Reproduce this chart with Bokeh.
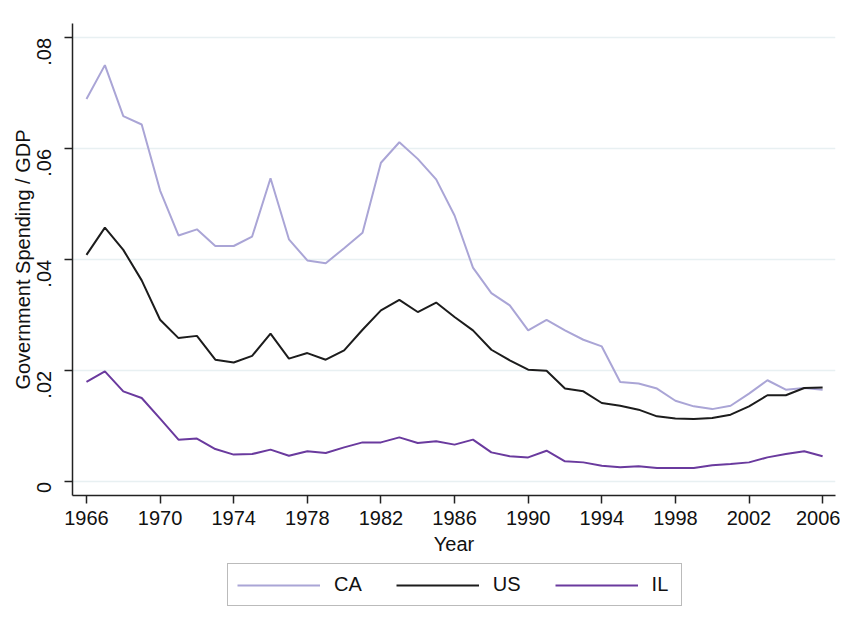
from bokeh.plotting import figure
from bokeh.models import FixedTicker, Legend, LegendItem, Range1d
from bokeh.layouts import column
from bokeh.embed import file_html
from bokeh.resources import INLINE
import math

years = list(range(1966, 2007))
ca = [0.0690, 0.0751, 0.0659, 0.0644, 0.0525, 0.0444, 0.0455, 0.0425, 0.0425, 0.0442,
      0.0547, 0.0437, 0.0399, 0.0394, 0.0421, 0.0449, 0.0575, 0.0612, 0.0582, 0.0545,
      0.0480, 0.0386, 0.0340, 0.0318, 0.0273, 0.0292, 0.0273, 0.0256, 0.0244, 0.0180,
      0.0177, 0.0168, 0.0146, 0.0136, 0.0131, 0.0137, 0.0159, 0.0183, 0.0166, 0.0169,
      0.0166]
us = [0.0409, 0.0458, 0.0418, 0.0363, 0.0292, 0.0259, 0.0263, 0.0220, 0.0215, 0.0227,
      0.0267, 0.0222, 0.0232, 0.0220, 0.0237, 0.0274, 0.0309, 0.0328, 0.0306, 0.0323,
      0.0297, 0.0273, 0.0238, 0.0219, 0.0202, 0.0200, 0.0168, 0.0163, 0.0142, 0.0137,
      0.0130, 0.0118, 0.0114, 0.0113, 0.0115, 0.0121, 0.0136, 0.0156, 0.0156, 0.0169,
      0.0170]
il = [0.0180, 0.0199, 0.0163, 0.0151, 0.0114, 0.0076, 0.0078, 0.0059, 0.0049, 0.0050,
      0.0058, 0.0047, 0.0055, 0.0052, 0.0062, 0.0071, 0.0071, 0.0080, 0.0070, 0.0073,
      0.0067, 0.0076, 0.0053, 0.0046, 0.0044, 0.0056, 0.0037, 0.0035, 0.0029, 0.0026,
      0.0028, 0.0025, 0.0025, 0.0025, 0.0030, 0.0032, 0.0035, 0.0044, 0.0050, 0.0055,
      0.0046]
series_names = ["CA", "US", "IL"]
x_ticks = list(range(1966, 2007, 4))
y_ticks = [0, 0.02, 0.04, 0.06, 0.08]
y_tick_labels = ["0", ".02", ".04", ".06", ".08"]

FONT = "Liberation Sans"
colors = ["#aaa5d6", "#1c1c1c", "#6a3a9e"]
series = [ca, us, il]

p = figure(width=840, height=560, output_backend="svg", toolbar_location=None,
           x_range=Range1d(1965.24, 2006.7), y_range=Range1d(-0.00247, 0.0826),
           min_border_left=72, min_border_right=5, min_border_top=23, min_border_bottom=65)
p.outline_line_color = None
p.background_fill_color = "white"
p.border_fill_color = "white"

for name, vals, c in zip(series_names, series, colors):
    p.line(years, vals, line_color=c, line_width=2)

p.xgrid.visible = False
p.ygrid.grid_line_color = "#e8f0f2"
p.ygrid.grid_line_width = 1.5
p.ygrid.ticker = FixedTicker(ticks=y_ticks)

p.xaxis.ticker = FixedTicker(ticks=x_ticks)
p.yaxis.ticker = FixedTicker(ticks=y_ticks)
p.yaxis.major_label_overrides = {t: l for t, l in zip(y_ticks, y_tick_labels)}
p.yaxis.major_label_orientation = math.pi / 2

for ax in (p.xaxis[0], p.yaxis[0]):
    ax.axis_line_color = "#222222"
    ax.axis_line_width = 1.5
    ax.major_tick_line_color = "#222222"
    ax.major_tick_line_width = 1.5
    ax.major_tick_out = 8
    ax.major_tick_in = 0
    ax.minor_tick_line_color = None
    ax.major_label_text_font = FONT
    ax.major_label_text_font_size = "20px"
    ax.major_label_text_color = "#111111"
    ax.axis_label_text_font = FONT
    ax.axis_label_text_font_size = "20px"
    ax.axis_label_text_font_style = "normal"
    ax.axis_label_text_color = "#111111"

p.xaxis.axis_label = "Year"
p.yaxis.axis_label = "Government Spending / GDP"
p.xaxis.major_label_standoff = 7
p.xaxis.axis_label_standoff = 5
p.yaxis.major_label_standoff = 20
p.yaxis.axis_label_standoff = -6

# legend panel: a second figure holding the legend only (its lines lie off-screen)
lg = figure(width=840, height=60, output_backend="svg", toolbar_location=None,
            x_range=Range1d(0, 1), y_range=Range1d(0, 1),
            min_border_left=0, min_border_right=0, min_border_top=0, min_border_bottom=0)
lg.axis.visible = False
lg.grid.visible = False
lg.outline_line_color = None
items = []
for name, vals, c in zip(series_names, series, colors):
    r = lg.line(years, vals, line_color=c, line_width=2)
    items.append(LegendItem(label=name, renderers=[r]))

legend = Legend(items=items, orientation="horizontal", location=(155, 14))
legend.label_text_font = FONT
legend.label_text_font_size = "20px"
legend.label_text_color = "#111111"
legend.glyph_width = 83
legend.label_standoff = 14
legend.spacing = 34
legend.padding = 9
legend.margin = 0
legend.border_line_color = "#777777"
legend.border_line_width = 1.5
lg.add_layout(legend, "center")

layout = column(p, lg, spacing=0)
open("out.html", "w").write(file_html(layout, INLINE))
